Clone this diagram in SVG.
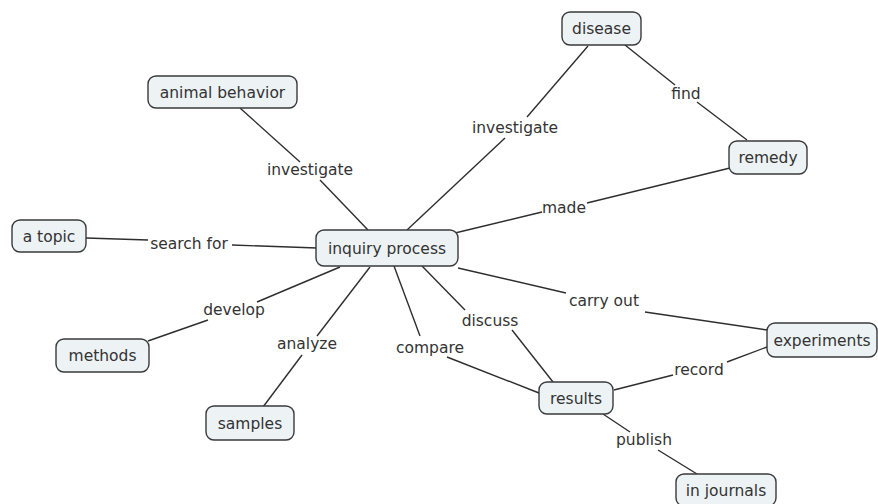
<svg xmlns="http://www.w3.org/2000/svg" width="878" height="504" viewBox="0 0 878 504">
<style>
.n rect{fill:#edf2f5;stroke:#3a3a3a;stroke-width:1.4}
.n text,.lbl text{font-family:"DejaVu Sans",Verdana,sans-serif;font-size:15.5px;fill:#333;text-anchor:middle}
.c line{stroke:#2e2e2e;stroke-width:1.4}
</style>
<rect width="878" height="504" fill="#fff"/>
<g id="connectors" class="c">
<line x1="240" y1="108" x2="300" y2="162"/>
<line x1="320" y1="180" x2="368" y2="230"/>
<line x1="407" y1="230" x2="505" y2="138"/>
<line x1="527" y1="117" x2="588" y2="46"/>
<line x1="625" y1="45" x2="675" y2="85"/>
<line x1="697" y1="102" x2="747" y2="140"/>
<line x1="455" y1="233" x2="542" y2="212"/>
<line x1="587" y1="203" x2="730" y2="168"/>
<line x1="86" y1="238" x2="148" y2="240"/>
<line x1="232" y1="245" x2="317" y2="248"/>
<line x1="340" y1="267" x2="257" y2="302"/>
<line x1="208" y1="320" x2="148" y2="341"/>
<line x1="370" y1="267" x2="317" y2="336"/>
<line x1="302" y1="355" x2="263" y2="407"/>
<line x1="394" y1="266" x2="420" y2="336"/>
<line x1="447" y1="357" x2="539" y2="393"/>
<line x1="422" y1="266" x2="465" y2="310"/>
<line x1="512" y1="330" x2="553" y2="382"/>
<line x1="458" y1="268" x2="566" y2="293"/>
<line x1="645" y1="312" x2="767" y2="330"/>
<line x1="767" y1="347" x2="727" y2="362"/>
<line x1="673" y1="375" x2="614" y2="390"/>
<line x1="603" y1="414" x2="630" y2="432"/>
<line x1="658" y1="450" x2="697" y2="474"/>
</g>
<g id="labels" class="lbl">
<text x="310" y="175">investigate</text>
<text x="515" y="133">investigate</text>
<text x="686" y="99">find</text>
<text x="564" y="213">made</text>
<text x="189" y="249">search for</text>
<text x="234" y="315">develop</text>
<text x="307" y="349">analyze</text>
<text x="430" y="353">compare</text>
<text x="490" y="326">discuss</text>
<text x="604" y="306">carry out</text>
<text x="699" y="375">record</text>
<text x="644" y="445">publish</text>
</g>
<g id="inquiry" class="n"><rect x="316" y="230" width="142" height="36" rx="8"/><text x="387" y="254">inquiry process</text></g>
<g id="disease" class="n"><rect x="562" y="12" width="79" height="33" rx="8"/><text x="601.5" y="34">disease</text></g>
<g id="animal" class="n"><rect x="148" y="76" width="149" height="32" rx="8"/><text x="222.5" y="98">animal behavior</text></g>
<g id="remedy" class="n"><rect x="729" y="141" width="78" height="33" rx="8"/><text x="768" y="163">remedy</text></g>
<g id="topic" class="n"><rect x="12" y="220" width="74" height="32" rx="8"/><text x="49" y="242">a topic</text></g>
<g id="methods" class="n"><rect x="56" y="339" width="93" height="33" rx="8"/><text x="102.5" y="361">methods</text></g>
<g id="samples" class="n"><rect x="206" y="406" width="88" height="34" rx="8"/><text x="250" y="429">samples</text></g>
<g id="experiments" class="n"><rect x="767" y="323" width="110" height="34" rx="8"/><text x="822" y="346">experiments</text></g>
<g id="results" class="n"><rect x="539" y="382" width="74" height="32" rx="8"/><text x="576" y="404">results</text></g>
<g id="journals" class="n"><rect x="676" y="474" width="100" height="32" rx="8"/><text x="726" y="496">in journals</text></g>
</svg>
